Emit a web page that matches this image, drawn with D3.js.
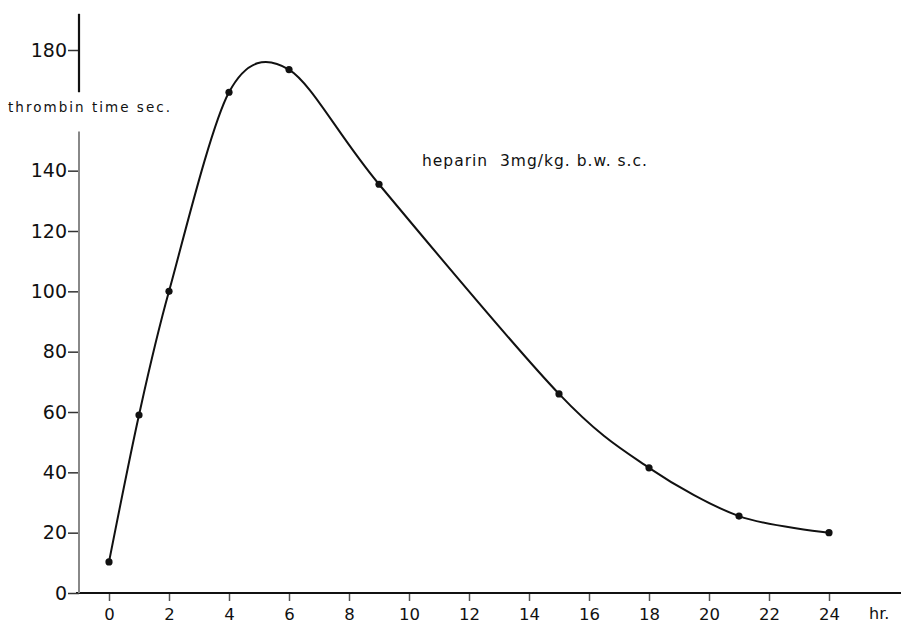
<!DOCTYPE html>
<html>
<head>
<meta charset="utf-8">
<script src="https://cdn.jsdelivr.net/npm/d3@7"></script>
<style>
html,body{margin:0;padding:0;background:#fff;}
svg{display:block;}
text{font-family:"DejaVu Sans","Noto Sans",sans-serif;fill:#111;}
</style>
</head>
<body>
<svg id="chart" width="901" height="625"></svg>
<script>
// Data
const hours = [0, 1, 2, 4, 6, 9, 15, 18, 21, 24];
const thrombinTime = [10.3, 59, 100, 166, 173.5, 135.5, 66, 41.5, 25.5, 20];
const xTickValues = [0, 2, 4, 6, 8, 10, 12, 14, 16, 18, 20, 22, 24];
const yTickValues = [0, 20, 40, 60, 80, 100, 120, 140, 180];
const yLabel = "thrombin time sec.";
const xUnit = "hr.";
const annotation = "heparin\u00a0\u00a03mg/kg. b.w. s.c.";

const svg = d3.select("#chart");
const x = d3.scaleLinear().domain([0, 24]).range([109, 829]);
const y = d3.scaleLinear().domain([0, 180]).range([593, 50]);

// X axis
const xAxis = d3.axisBottom(x).tickValues(xTickValues).tickSize(8).tickPadding(7).tickFormat(d3.format("d"));
const gx = svg.append("g").attr("transform", `translate(0,${y(0)})`).call(xAxis);
gx.select(".domain").remove();
gx.selectAll(".tick line").attr("stroke", "#555").attr("stroke-width", 1.5);
gx.selectAll(".tick text").style("font-size", "16.5px").attr("fill", "#111");
svg.append("line")
  .attr("x1", 76).attr("x2", 901).attr("y1", y(0)).attr("y2", y(0))
  .attr("stroke", "#111").attr("stroke-width", 2.2);
svg.append("text").attr("x", 869).attr("y", 619)
  .style("font-size", "16px").text(xUnit);

// Y axis
const ax = x(0) - 30;
const yAxis = d3.axisLeft(y).tickValues(yTickValues).tickSize(11).tickPadding(1).tickFormat(d3.format("d"));
const gy = svg.append("g").attr("transform", `translate(${ax},0)`).call(yAxis);
gy.select(".domain").remove();
gy.selectAll(".tick line").attr("stroke", "#333").attr("stroke-width", 1.5);
gy.selectAll(".tick text").style("font-size", "19px").attr("fill", "#111");
svg.append("line").attr("x1", ax).attr("x2", ax).attr("y1", y(192)).attr("y2", y(166))
  .attr("stroke", "#111").attr("stroke-width", 2.2);
svg.append("line").attr("x1", ax).attr("x2", ax).attr("y1", y(153)).attr("y2", y(0))
  .attr("stroke", "#888").attr("stroke-width", 2);
svg.append("text").attr("x", 8).attr("y", 112)
  .attr("textLength", 162).attr("lengthAdjust", "spacing")
  .style("font-size", "13.5px").text(yLabel);

// Curve
const pts = hours.map((h, i) => [h, thrombinTime[i]]);
const line = d3.line().x(d => x(d[0])).y(d => y(d[1])).curve(d3.curveCardinal.tension(0.1));
svg.append("path").datum(pts).attr("d", line)
  .attr("fill", "none").attr("stroke", "#111").attr("stroke-width", 2);
svg.selectAll("circle.pt").data(pts).join("circle")
  .attr("class", "pt").attr("cx", d => x(d[0])).attr("cy", d => y(d[1]))
  .attr("r", 3.6).attr("fill", "#111");

// Annotation
svg.append("text").attr("x", 422).attr("y", 166)
  .attr("textLength", 225).attr("lengthAdjust", "spacing")
  .style("font-size", "15.5px").text(annotation);
</script>
</body>
</html>
